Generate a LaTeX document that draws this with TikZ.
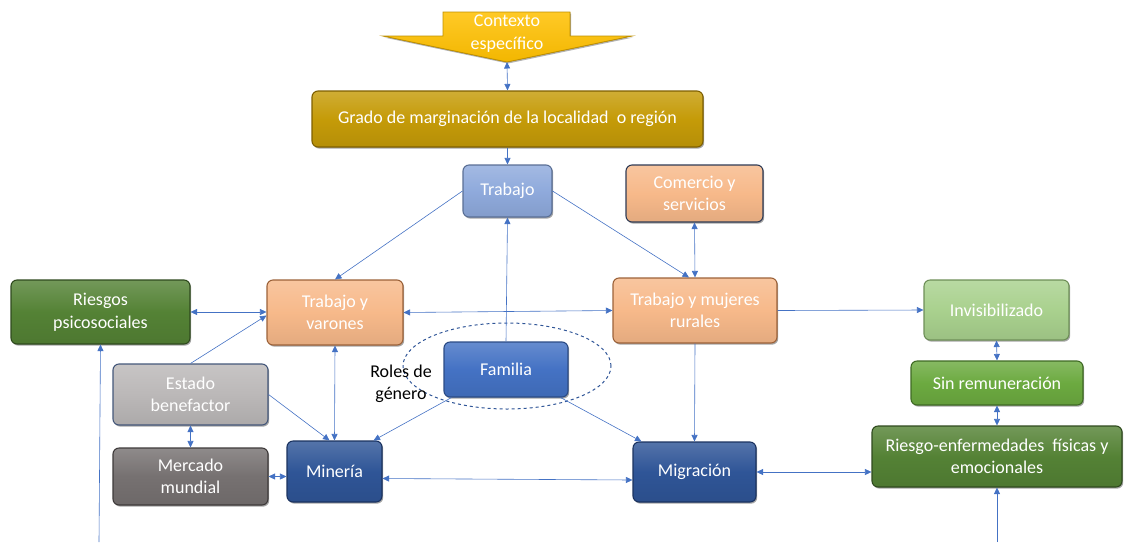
\documentclass[tikz,border=0pt]{standalone}
\usepackage{fontspec}
\setmainfont{Carlito}
\usetikzlibrary{arrows.meta,calc,shadows,shapes.geometric}

\definecolor{linkblue}{HTML}{4472C4}
\definecolor{gold}{HTML}{FFC000}
\definecolor{goldedge}{HTML}{BF9000}
\definecolor{ochre}{HTML}{C59B08}
\definecolor{ochreedge}{HTML}{7F6000}
\definecolor{skyblue}{HTML}{8FAADC}
\definecolor{skyedge}{HTML}{5A6F95}
\definecolor{peach}{HTML}{F7B98A}
\definecolor{peachedge}{HTML}{9C6239}
\definecolor{navyedge}{HTML}{2F3B55}
\definecolor{darkgreen}{HTML}{548235}
\definecolor{darkgreenedge}{HTML}{2F4A1E}
\definecolor{lightgreen}{HTML}{A9D18E}
\definecolor{lightgreenedge}{HTML}{6E8F58}
\definecolor{midgreen}{HTML}{6CAA40}
\definecolor{midgreenedge}{HTML}{3F6A24}
\definecolor{famblue}{HTML}{4472C4}
\definecolor{fambluedge}{HTML}{2B4B85}
\definecolor{deepblue}{HTML}{2F5597}
\definecolor{deepbluedge}{HTML}{1B3360}
\definecolor{lightgrey}{HTML}{BBB8B8}
\definecolor{lightgreyedge}{HTML}{44577A}
\definecolor{darkgrey}{HTML}{767171}
\definecolor{darkgreyedge}{HTML}{3E3A3A}
\definecolor{ringblue}{HTML}{2F5597}

\begin{document}
\begin{tikzpicture}[x=1pt,y=-1pt,
  box/.style 2 args={draw=#2, top color=#1!82!white, bottom color=#1!92!black,
    middle color=#1, rounded corners=6pt, line width=1.1pt, text=white,
    align=center, inner sep=2pt, font=\fontsize{18}{22.5}\selectfont,
    drop shadow={shadow xshift=1.2pt, shadow yshift=-1.6pt, opacity=0.35, fill=black}},
  tip/.tip={Triangle[length=6.5pt,width=6pt]},
  link/.style={draw=linkblue, line width=0.6pt, -tip},
  dlink/.style={draw=linkblue, line width=0.6pt, tip-tip},
]
\useasboundingbox (0,0) rectangle (1124,542);

% callout arrow at the top
\filldraw[draw=goldedge, line width=0.8pt, top color=gold!85!white, bottom color=gold!95!black,
  drop shadow={shadow xshift=1pt, shadow yshift=-1.5pt, opacity=0.3, fill=black}]
  (443,12) -- (570,12) -- (570,36) -- (632,36) -- (507,62) -- (383,36) -- (443,36) -- cycle;
\node[text=white, align=center, font=\fontsize{18}{23}\selectfont] (contexto) at (507,34) {Contexto\\espec\'ifico};
\coordinate (ctip) at (507,62);

% boxes
\node[box={ochre}{ochreedge}, minimum width=391, minimum height=56] (grado) at (507.5,119)
  {Grado de marginaci\'on de la localidad\ \ o regi\'on};
\node[box={skyblue}{skyedge}, minimum width=89, minimum height=52] (trabajo) at (507.5,191) {Trabajo};
\node[box={peach}{navyedge}, minimum width=137, minimum height=57] (comercio) at (694.5,193.5) {Comercio y\\servicios};
\node[box={peach}{peachedge}, minimum width=136, minimum height=65] (varones) at (335,312.5) {Trabajo y\\varones};
\node[box={peach}{peachedge}, minimum width=164, minimum height=65] (mujeres) at (695,310.5) {Trabajo y mujeres\\rurales};
\node[box={darkgreen}{darkgreenedge}, minimum width=179, minimum height=64] (psico) at (100.5,312) {Riesgos\\psicosociales};
\node[box={lightgreen}{lightgreenedge}, minimum width=145, minimum height=60] (invis) at (996.5,310) {Invisibilizado};
\node[box={midgreen}{midgreenedge}, minimum width=172, minimum height=44] (sinrem) at (997,383) {Sin remuneraci\'on};
\node[box={darkgreen}{darkgreenedge}, minimum width=250, minimum height=61] (enferm) at (997,456.5)
  {Riesgo-enfermedades\ \ f\'isicas y\\emocionales};

% gender roles ring around the family
\node[draw=ringblue, dashed, line width=1pt, ellipse, minimum width=208, minimum height=86] (roles) at (507,366) {};
\node[box={famblue}{fambluedge}, minimum width=124, minimum height=55] (familia) at (506,369.5) {Familia};
\node[align=center, font=\fontsize{18}{22}\selectfont, text=black] (rolestxt) at (401,384) {Roles de\\g\'enero};

\node[box={lightgrey}{lightgreyedge}, minimum width=155, minimum height=61] (estado) at (190.5,394.5) {Estado\\benefactor};
\node[box={darkgrey}{darkgreyedge}, minimum width=155, minimum height=57] (mercado) at (190.5,476.5) {Mercado\\mundial};
\node[box={deepblue}{deepbluedge}, minimum width=95, minimum height=61] (mineria) at (334.5,471.5) {Miner\'ia};
\node[box={deepblue}{deepbluedge}, minimum width=123, minimum height=60] (migracion) at (694.5,472) {Migraci\'on};

% loose ends at the bottom edge
\coordinate (footL) at (99,542);
\coordinate (footR) at (997,542);

% connectors
\draw[dlink] (ctip) -- (grado.north);
\draw[link] (grado.south) -- (trabajo.north);
\draw[link] (trabajo.west) -- (varones.north);
\draw[link] (trabajo.east) -- ($(mujeres.north)+(-6,0)$);
\draw[dlink] (comercio.south) -- (mujeres.north);
\draw[link] (familia.north) -- (trabajo.south);
\draw[dlink] (varones.east) -- (mujeres.west);
\draw[dlink] (psico.east) -- (psico.east -| varones.west);
\draw[link] (estado.north) -- ($(varones.west)+(0,3)$);
\draw[dlink] (varones.south) -- (mineria.north);
\draw[link] (estado.east) -- ($(mineria.north)+(-5,0)$);
\draw[link] ($(familia.south west)+(8,0)$) -- ($(mineria.north east)+(-9,0)$);
\draw[link] ($(familia.south east)+(-8,0)$) -- ($(migracion.north west)+(9,0)$);
\draw[link] (mujeres.south) -- (migracion.north);
\draw[dlink] ($(mineria.east)+(0,7)$) -- ($(migracion.west)+(0,8)$);
\draw[dlink] (mercado.east) -- (mercado.east -| mineria.west);
\draw[dlink] (estado.south) -- (mercado.north);
\draw[link] (mujeres.east) -- (invis.west);
\draw[dlink] (migracion.east) -- (migracion.east -| enferm.west);
\draw[dlink] (invis.south) -- (sinrem.north);
\draw[dlink] (sinrem.south) -- (enferm.north);
\draw[link] (footR) -- (enferm.south);
\draw[link] (footL) -- (psico.south);
\end{tikzpicture}
\end{document}
